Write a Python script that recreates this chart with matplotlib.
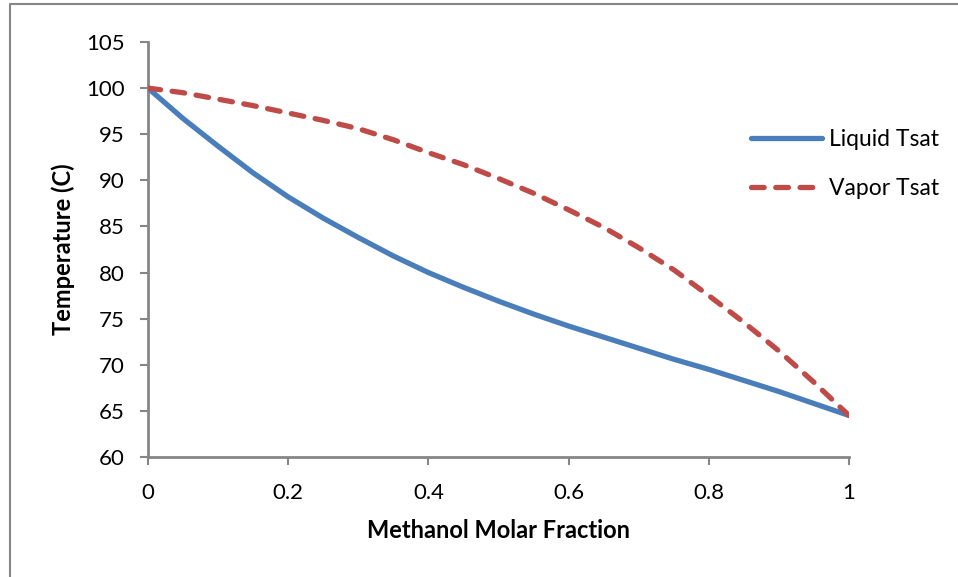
import matplotlib
matplotlib.use("Agg")
import matplotlib.pyplot as plt
from matplotlib.lines import Line2D

# methanol molar fraction
x_frac = [0.0, 0.05, 0.1, 0.15, 0.2, 0.25, 0.3, 0.35, 0.4, 0.45, 0.5,
          0.55, 0.6, 0.65, 0.7, 0.75, 0.8, 0.85, 0.9, 0.95, 1.0]
liquid_tsat = [100.0, 96.7, 93.7, 90.8, 88.2, 85.9, 83.8, 81.8, 80.0, 78.4, 76.9,
               75.5, 74.2, 73.0, 71.8, 70.6, 69.5, 68.3, 67.1, 65.8, 64.5]
vapor_tsat = [100.0, 99.5, 98.8, 98.1, 97.3, 96.5, 95.6, 94.4, 93.0, 91.7, 90.2,
              88.6, 86.8, 84.9, 82.7, 80.3, 77.5, 74.6, 71.5, 68.1, 64.5]

x_ticks = [0, 0.2, 0.4, 0.6, 0.8, 1]
x_labels = ["0", "0.2", "0.4", "0.6", "0.8", "1"]
y_ticks = [60, 65, 70, 75, 80, 85, 90, 95, 100, 105]

plt.rcParams['font.family'] = ['Lato', 'DejaVu Sans']
axis_gray = "#868686"

fig = plt.figure(figsize=(9.58, 5.77), dpi=100)
ax = fig.add_axes([148 / 958, 1 - 457 / 577, 701 / 958, 415 / 577])

ax.plot(x_frac, liquid_tsat, color="#4A7EBB", lw=3.8, solid_capstyle="round",
        solid_joinstyle="round", label="Liquid Tsat", zorder=3)
ax.plot(x_frac, vapor_tsat, color="#BE4B48", lw=3.8, linestyle=(0, (2.4, 2.2)),
        dash_capstyle="round", label="Vapor Tsat", zorder=4)

ax.set_xlim(0, 1)
ax.set_ylim(60, 105)
ax.set_xticks(x_ticks)
ax.set_xticklabels(x_labels)
ax.set_yticks(y_ticks)

for side in ["top", "right"]:
    ax.spines[side].set_visible(False)
for side in ["left", "bottom"]:
    ax.spines[side].set_color(axis_gray)
    ax.spines[side].set_linewidth(2)
ax.tick_params(axis="both", colors=axis_gray, width=1.5, length=6, labelsize=16,
               labelcolor="black")
ax.tick_params(axis="x", pad=13)
ax.tick_params(axis="y", pad=11)

ax.set_xlabel("Methanol Molar Fraction", fontsize=17, fontweight="bold", labelpad=11)
ax.set_ylabel("Temperature (C)", fontsize=17, fontweight="bold", labelpad=8)

fig.legend(loc="upper left", bbox_to_anchor=(742 / 958, 1 - 120 / 577), frameon=False,
           fontsize=16.5, handlelength=3.1, labelspacing=1.2, handletextpad=0.3,
           borderaxespad=0)

# chart frame (left and top edges visible)
fig.add_artist(Line2D([10 / 958, 10 / 958, 1.0], [0.0, 1 - 4 / 577, 1 - 4 / 577],
                      transform=fig.transFigure, color=axis_gray, lw=1.5))

fig.savefig("out.png", dpi=100)
